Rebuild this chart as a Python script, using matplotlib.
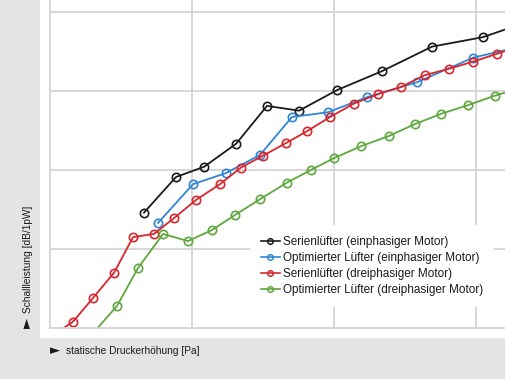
import matplotlib
matplotlib.use('Agg')
import matplotlib.pyplot as plt
from matplotlib.patches import Rectangle

plt.rcParams['font.family'] = ['Liberation Sans', 'DejaVu Sans']

# static pressure [Pa] and sound power [dB/1pW]
x_serie_1ph = [66.2, 88.7, 108.5, 131.0, 152.8, 175.4, 202.1, 233.8, 269.0, 304.9, 327.5]
y_serie_1ph = [64.6, 69.1, 70.4, 73.3, 78.1, 77.5, 80.1, 82.5, 85.6, 86.8, 88.2]

x_opt_1ph = [76.1, 100.7, 123.9, 147.9, 170.4, 195.8, 223.2, 258.5, 297.9, 323.9]
y_opt_1ph = [63.3, 68.2, 69.6, 71.9, 76.7, 77.3, 79.2, 81.1, 84.2, 85.3]

x_serie_3ph = [2.1, 16.2, 30.3, 45.1, 58.5, 73.2, 87.3, 102.8, 119.7, 134.5, 150.0,
               166.2, 181.0, 197.2, 214.1, 231.0, 247.2, 264.1, 281.0, 297.9, 314.8, 331.7]
y_serie_3ph = [49.1, 50.8, 53.8, 57.0, 61.5, 61.9, 63.9, 66.2, 68.2, 70.3, 71.8,
               73.4, 74.9, 76.7, 78.4, 79.6, 80.5, 82.0, 82.8, 83.7, 84.7, 85.7]

x_opt_3ph = [29.6, 47.2, 62.0, 79.6, 97.2, 114.1, 130.3, 147.9, 166.9, 183.8, 200.0,
             219.0, 238.7, 257.0, 275.4, 294.4, 313.4, 331.7]
y_opt_3ph = [49.2, 52.8, 57.6, 61.9, 61.0, 62.4, 64.3, 66.3, 68.4, 70.0, 71.5,
             73.0, 74.3, 75.8, 77.1, 78.2, 79.4, 80.4]

labels = ['Serienlüfter (einphasiger Motor)',
          'Optimierter Lüfter (einphasiger Motor)',
          'Serienlüfter (dreiphasiger Motor)',
          'Optimierter Lüfter (dreiphasiger Motor)']
colors = ['#1a1a1a', '#2f86d4', '#d7262e', '#5ea83e']

W, H = 506, 379
fig = plt.figure(figsize=(W / 100, H / 100), dpi=100, facecolor='#e4e4e4')

# white panel behind the plot
fig.patches.append(Rectangle((40 / W, (H - 338) / H), 1 - 40 / W, 338 / H,
                             transform=fig.transFigure, facecolor='white',
                             edgecolor='none', zorder=-1))

ax = fig.add_axes([50 / W, (H - 328) / H, 1 - 50 / W, 328 / H])
ax.set_zorder(2)
ax.set_facecolor('white')

series = [(x_serie_1ph, y_serie_1ph), (x_opt_1ph, y_opt_1ph),
          (x_serie_3ph, y_serie_3ph), (x_opt_3ph, y_opt_3ph)]
for (xs, ys), lab, c in zip(series, labels, colors):
    ax.plot(xs, ys, color=c, lw=1.3, marker='o', ms=6, mfc='none', mec=c,
            mew=1.2, label=lab)

ax.set_xlim(0, 321.1)
ax.set_ylim(50, 91.5)
ax.set_xticks([100, 200, 300])
ax.set_yticks([60, 70, 80, 90])
ax.tick_params(length=0, labelbottom=False, labelleft=False)
ax.grid(True, color='#d4d4d4', lw=1.3)
ax.set_axisbelow(True)
for s in ['top', 'right']:
    ax.spines[s].set_visible(False)
for s in ['left', 'bottom']:
    ax.spines[s].set_color('#d4d4d4')
    ax.spines[s].set_linewidth(1.3)

leg = ax.legend(loc='upper left', bbox_to_anchor=(0.4386, 0.314), fontsize=8.5,
                frameon=True, fancybox=False, borderaxespad=0, handlelength=1.6,
                handletextpad=0.3, labelspacing=0.35, borderpad=0.9)
leg.get_frame().set_facecolor('white')
leg.get_frame().set_edgecolor('none')
leg.get_frame().set_alpha(1)
for t in leg.get_texts():
    t.set_color('#1a1a1a')
for h in leg.legend_handles:
    h.set_markersize(4)
    h.set_markeredgewidth(1.1)
    h.set_linewidth(1.2)

# axis labels with the arrow heads in front
fig.text(28 / W, (H - 323) / H, '►', rotation=90, ha='center', va='center',
         fontsize=9.5, color='#1a1a1a', family='DejaVu Sans')
fig.text(28 / W, (H - 313) / H, 'Schallleistung [dB/1pW]', rotation=90,
         ha='center', va='bottom', fontsize=7.3, color='#1a1a1a')
fig.text(55 / W, (H - 351) / H, '►', ha='center', va='center',
         fontsize=9.5, color='#1a1a1a', family='DejaVu Sans')
fig.text(66 / W, (H - 351) / H, 'statische Druckerhöhung [Pa]',
         ha='left', va='center', fontsize=7.3, color='#1a1a1a')

fig.savefig('out.png', dpi=100, facecolor=fig.get_facecolor())
